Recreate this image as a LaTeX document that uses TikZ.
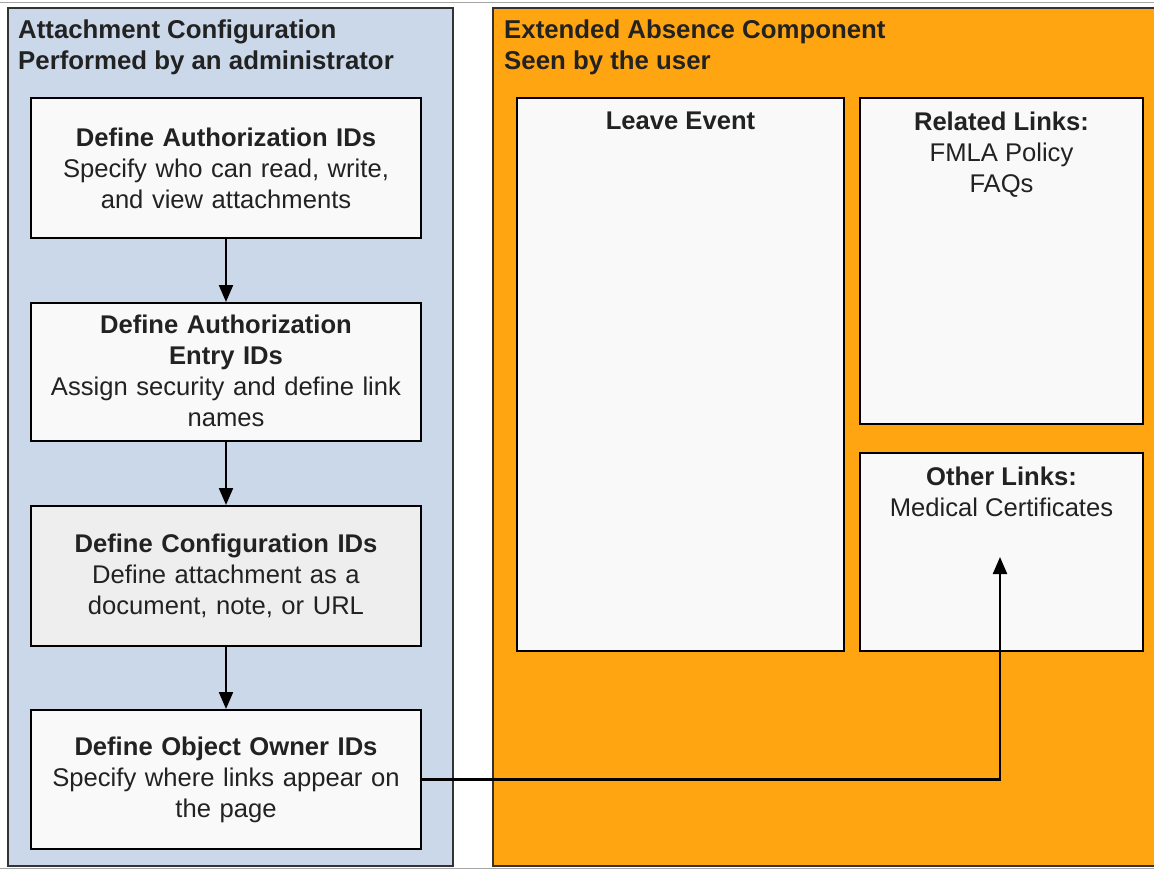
\documentclass[tikz,border=0pt]{standalone}
\usepackage{fontspec}
\setmainfont{Liberation Sans}
\usetikzlibrary{arrows.meta}
\definecolor{panelblue}{HTML}{CAD8EA}
\definecolor{panelorange}{HTML}{FFA511}
\definecolor{boxfill}{HTML}{F9F9F9}
\definecolor{boxgray}{HTML}{EEEEEE}
\definecolor{edgegray}{HTML}{333333}
\definecolor{textgray}{HTML}{222222}
\tikzset{
  x=1pt, y=-1pt,
  panel/.style={draw=edgegray, line width=1.6pt},
  stepbox/.style={draw=black, line width=2pt, fill=boxfill, anchor=north west, inner sep=0pt,
    align=center, text=textgray, font=\fontsize{25.6}{31}\selectfont},
  linkbox/.style={draw=black, line width=2pt, fill=boxfill, anchor=north west, inner sep=0pt},
  heading/.style={anchor=west, inner sep=0pt, text=textgray, font=\fontsize{25.8}{31}\selectfont\bfseries},
  boxtext/.style={anchor=north, inner sep=0pt, align=center, text=textgray, font=\fontsize{25.6}{31}\selectfont},
  conn/.style={draw=black, line width=2.2pt, -{Triangle[width=14pt,length=17pt]}},
}
\begin{document}
\begin{tikzpicture}
\clip (0,0) rectangle (1154,869);
\fill[white] (0,0) rectangle (1154,869);
\draw[gray!70, line width=1pt] (0,3) -- (1154,3);
\draw[gray!70, line width=1pt] (0,868) -- (1154,868);
% panels
\draw[panel, fill=panelblue] (8,8) rectangle (453,866);
\draw[panel, fill=panelorange] (493,8) rectangle (1170,866);
\node[heading] (lh1) at (18,32) {Attachment Configuration};
\node[heading] (lh2) at (18,63) {Performed by an administrator};
\node[heading] (rh1) at (504,32) {Extended Absence Component};
\node[heading] (rh2) at (504,63) {Seen by the user};
% left steps
\node[stepbox, minimum width=390pt, minimum height=140pt, text width=386pt] (s1) at (30,97)
  {\textbf{Define Authorization IDs}\\Specify who can read, write,\\and view attachments};
\node[stepbox, minimum width=390pt, minimum height=138pt, text width=386pt] (s2) at (30,302)
  {\textbf{Define Authorization}\\\textbf{Entry IDs}\\Assign security and define link\\names\rule{0pt}{0pt}\vspace*{3pt}};
\node[stepbox, fill=boxgray, minimum width=390pt, minimum height=140pt, text width=386pt] (s3) at (30,505)
  {\textbf{Define Configuration IDs}\\Define attachment as a\\document, note, or URL};
\node[stepbox, minimum width=390pt, minimum height=139pt, text width=386pt] (s4) at (30,709)
  {\textbf{Define Object Owner IDs}\\Specify where links appear on\\the page};
\draw[conn] (s1.south) -- (s2.north);
\draw[conn] (s2.south) -- (s3.north);
\draw[conn] (s3.south) -- (s4.north);
% right boxes
\node[linkbox, minimum width=327pt, minimum height=553pt] (le) at (516,97) {};
\node[linkbox, minimum width=283pt, minimum height=326pt] (rl) at (859,97) {};
\node[linkbox, minimum width=283pt, minimum height=198pt] (ol) at (859,452) {};
\node[boxtext] (let) at ([yshift=-15pt]le.north) {\textbf{Leave Event}};
\node[boxtext] (rlt) at ([yshift=-15pt]rl.north) {\textbf{Related Links:}\\FMLA Policy\\FAQs};
\node[boxtext] (olt) at ([yshift=-15pt]ol.north) {\textbf{Other Links:}\\Medical Certificates};
\coordinate (tip) at (1000,557);
\draw[conn] (s4.east) -| (tip);
\end{tikzpicture}
\end{document}
